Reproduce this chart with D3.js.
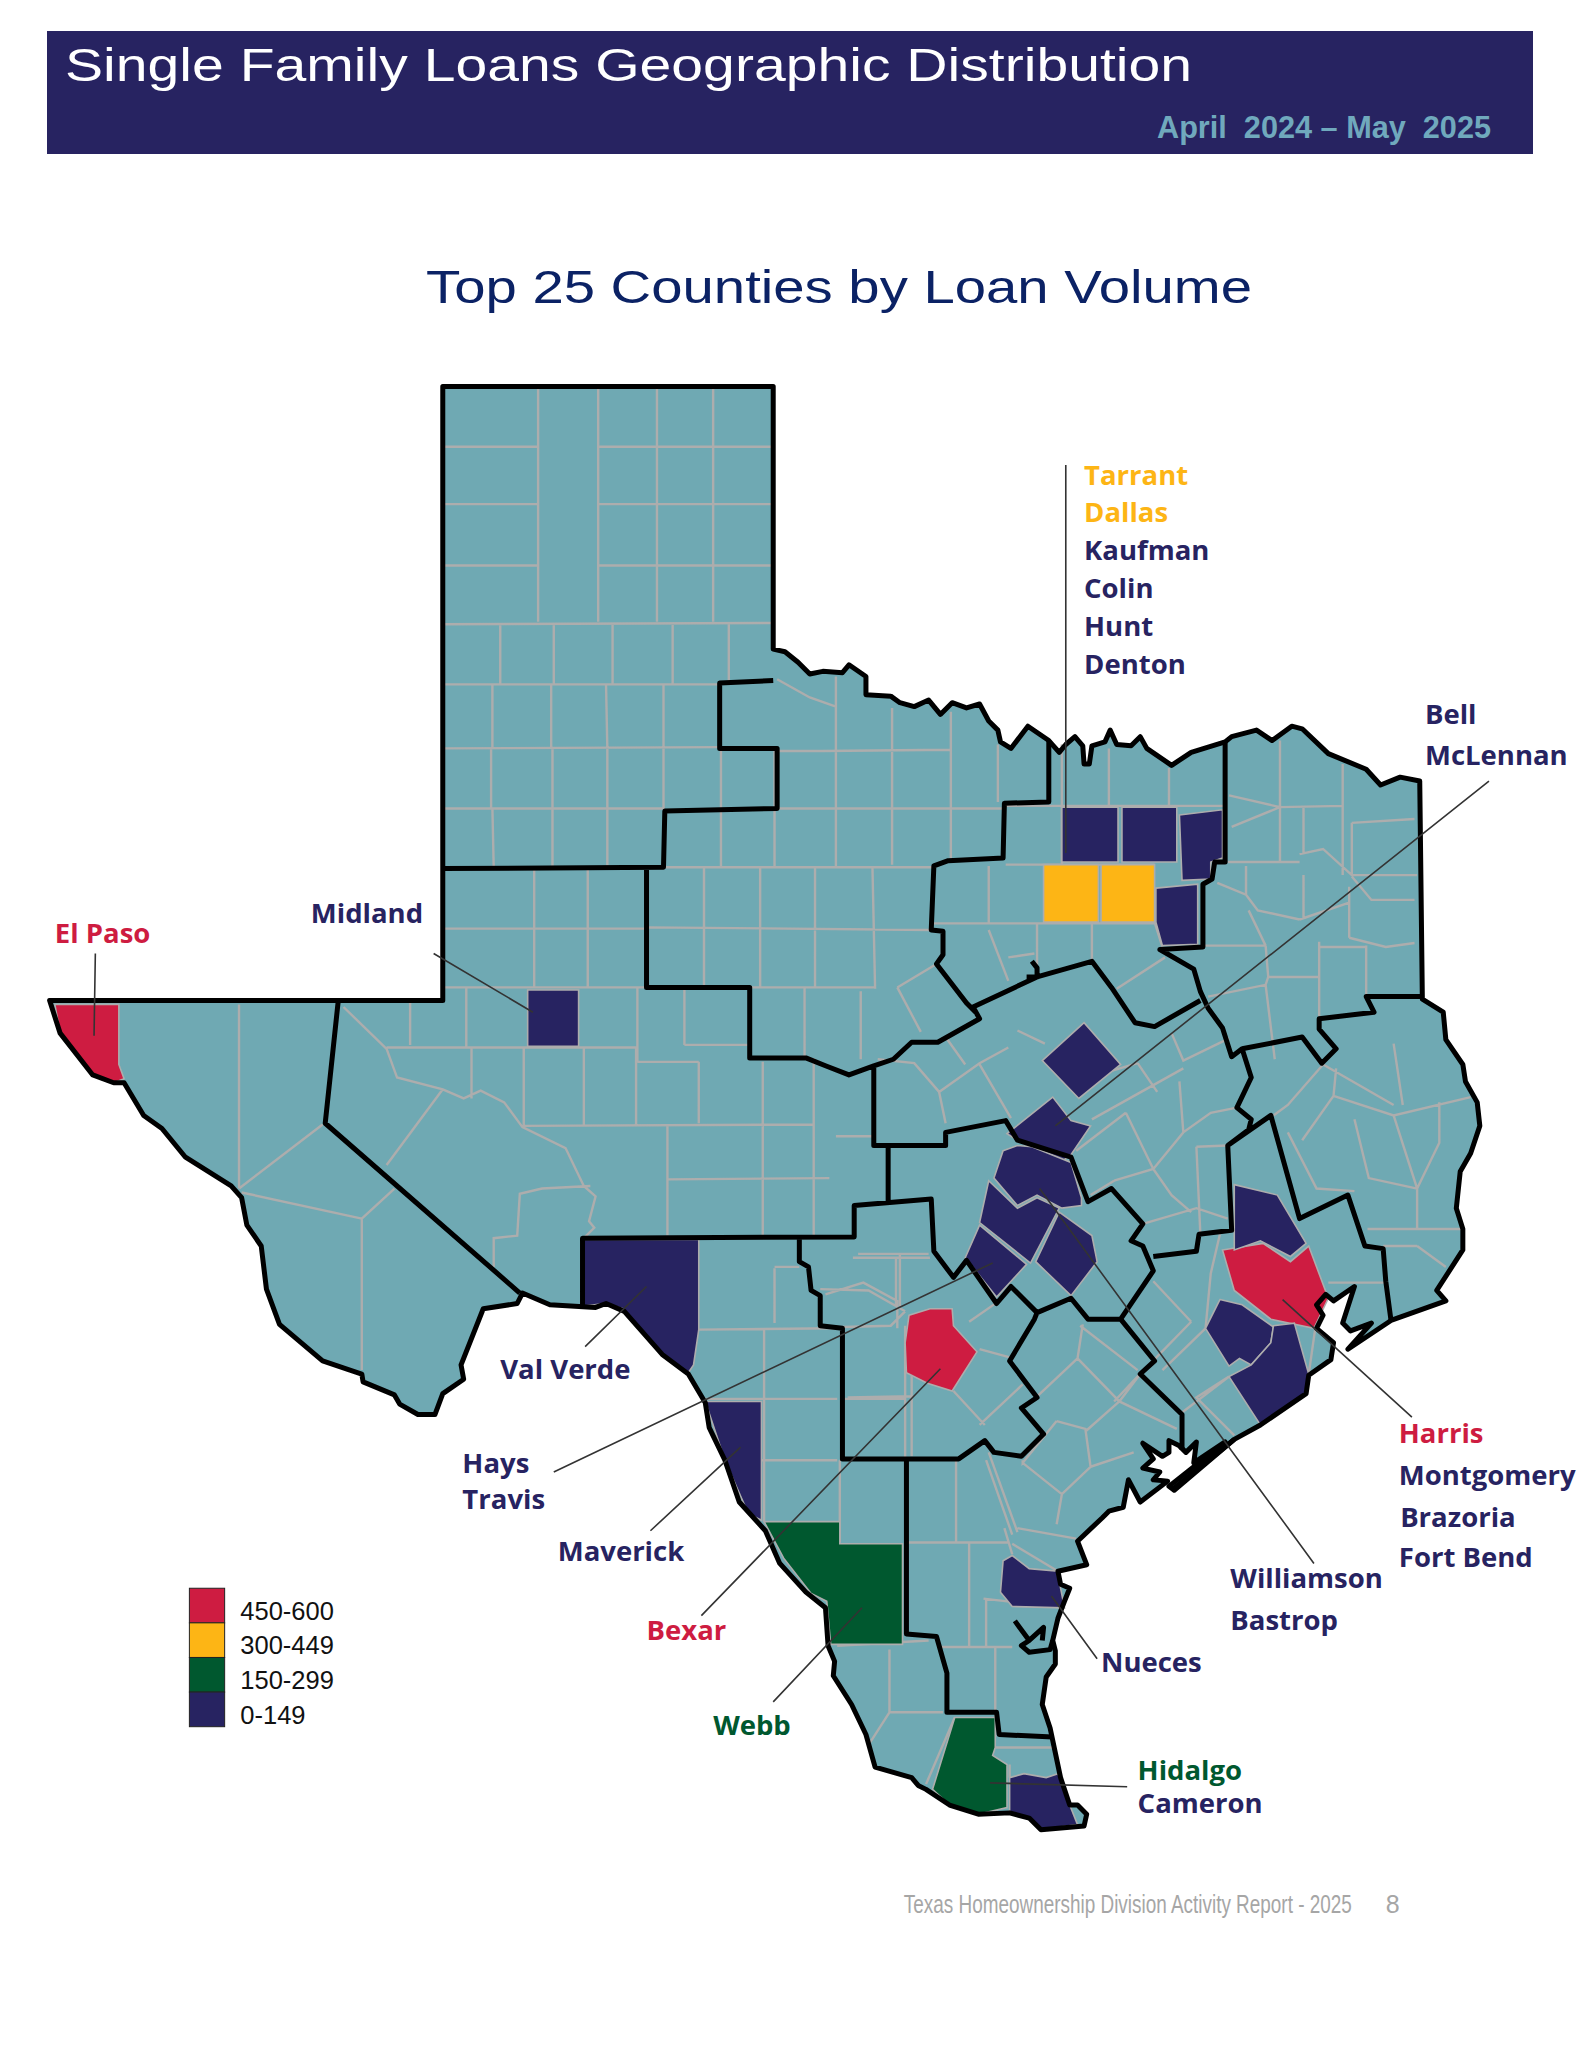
<!DOCTYPE html>
<html>
<head>
<meta charset="utf-8">
<title>Single Family Loans Geographic Distribution</title>
<script src="https://cdn.jsdelivr.net/npm/d3@7"></script>
<style>
    html, body { margin: 0; background: #fff; }
    svg { display: block; }
</style>
</head>
<body>
<svg id="chart" width="1583" height="2048"></svg>
<script>
// legend
var tierNames = ['450-600', '300-449', '150-299', '0-149'];
var tierColors = ['#ce1c41', '#fdb515', '#00582f', '#272361'];

// county -> legend tier
var countyTiers = {
    'El Paso': '450-600', 'Bexar': '450-600', 'Harris': '450-600',
    'Tarrant': '300-449', 'Dallas': '300-449',
    'Webb': '150-299', 'Hidalgo': '150-299',
    'Kaufman': '0-149', 'Colin': '0-149', 'Hunt': '0-149', 'Denton': '0-149',
    'Bell': '0-149', 'McLennan': '0-149', 'Midland': '0-149', 'Val Verde': '0-149',
    'Hays': '0-149', 'Travis': '0-149', 'Maverick': '0-149', 'Williamson': '0-149',
    'Bastrop': '0-149', 'Nueces': '0-149', 'Cameron': '0-149', 'Montgomery': '0-149',
    'Brazoria': '0-149', 'Fort Bend': '0-149'
};

// map geometry, in map units
var stateOutline = [[339,296],[592,296],[592,497],[601,499],[611,507],[620,516],[630,514],[645,515],[650,509],[663,518],[663,532],[682,533],[689,538],[700,541],[711,536],[720,547],[729,538],[740,542],[750,539],[757,552],[764,559],[766,568],[774,573],[787,556],[803,567],[811,576],[816,570],[823,564],[829,571],[830,585],[834,585],[836,571],[846,568],[850,559],[855,570],[866,571],[873,564],[878,573],[897,586],[912,576],[938,568],[943,564],[962,559],[974,567],[989,556],[997,558],[1017,577],[1046,589],[1057,601],[1072,595],[1087,598],[1089,765],[1105,775],[1107,796],[1120,815],[1122,828],[1131,844],[1133,862],[1126,883],[1118,897],[1115,925],[1120,941],[1120,957],[1100,988],[1107,996],[1065,1011],[1032,1033],[1050,1013],[1034,1019],[1028,1013],[1037,985],[1021,996],[1015,991],[1008,999],[1013,1007],[1008,1017],[1021,1028],[1019,1041],[1002,1053],[1000,1067],[965,1091],[945,1102],[899,1141],[895,1138],[938,1104],[914,1120],[916,1104],[908,1112],[903,1107],[895,1103],[895,1112],[890,1115],[875,1105],[883,1117],[875,1124],[888,1127],[883,1133],[894,1134],[873,1150],[864,1133],[860,1154],[849,1157],[844,1162],[825,1180],[832,1198],[810,1203],[812,1213],[819,1216],[815,1226],[810,1239],[806,1256],[808,1264],[808,1274],[801,1284],[798,1305],[804,1323],[812,1361],[819,1382],[825,1382],[832,1389],[830,1398],[797,1401],[788,1392],[773,1388],[749,1389],[727,1382],[709,1370],[703,1367],[698,1361],[670,1353],[663,1328],[652,1305],[638,1283],[639,1272],[634,1260],[632,1231],[617,1219],[597,1197],[586,1172],[566,1150],[555,1118],[543,1093],[540,1074],[527,1052],[507,1037],[478,1004],[464,998],[456,1001],[421,999],[400,990],[396,998],[370,1002],[353,1045],[355,1056],[339,1067],[333,1083],[320,1083],[306,1075],[302,1068],[278,1058],[277,1052],[247,1042],[214,1014],[204,987],[200,954],[189,938],[185,917],[177,908],[142,886],[124,864],[110,854],[95,829],[87,829],[71,823],[46,791],[38,766],[339,766]];

var countyShapes = {
    'El Paso': [[42,769],[91,769],[91,815],[95,826],[87,829],[71,823],[46,791]],
    'Midland': [[404,758],[443,758],[443,801],[404,801]],
    'Val Verde': [[447,949],[535,949],[535,1018],[531,1045],[527,1051],[507,1037],[477,1002],[463,998],[447,1000]],
    'Maverick': [[540,1073],[583,1073],[583,1164],[573,1159],[555,1118]],
    'Webb': [[585,1165],[643,1165],[643,1182],[691,1182],[691,1259],[636,1259],[633,1226],[621,1220],[600,1193]],
    'Bexar': [[696,1007],[712,1002],[729,1002],[730,1015],[748,1035],[729,1065],[710,1059],[694,1051],[693,1028]],
    'Hidalgo': [[731,1315],[762,1315],[762,1338],[760,1344],[771,1351],[771,1384],[749,1389],[727,1382],[714,1370]],
    'Cameron': [[773,1361],[784,1358],[801,1361],[810,1358],[819,1382],[825,1397],[797,1401],[788,1392],[773,1388]],
    'Nueces': [[768,1195],[775,1191],[788,1201],[810,1203],[812,1216],[815,1231],[775,1230],[766,1219]],
    'Tarrant': [[799,662],[841,662],[841,706],[799,706]],
    'Dallas': [[843,662],[884,662],[884,706],[843,706]],
    'Denton': [[813,618],[856,618],[856,660],[813,660]],
    'Colin': [[859,618],[901,618],[901,660],[859,660]],
    'Hunt': [[903,624],[936,620],[936,657],[927,660],[927,673],[905,674]],
    'Kaufman': [[885,680],[917,677],[917,723],[890,724],[885,706]],
    'Bell': [[798,812],[830,783],[858,815],[826,841]],
    'McLennan': [[771,868],[806,840],[820,858],[835,862],[820,884],[812,890],[779,873]],
    'Williamson': [[768,881],[779,877],[790,878],[820,890],[828,917],[828,923],[813,925],[794,915],[779,923],[761,902]],
    'Travis': [[757,904],[779,925],[794,917],[811,925],[789,967],[750,936]],
    'Hays': [[750,938],[786,968],[763,993],[739,963]],
    'Bastrop': [[811,928],[836,946],[840,966],[820,992],[793,966]],
    'Harris': [[936,957],[967,952],[988,966],[1002,954],[1017,994],[1006,1017],[973,1010],[945,988]],
    'Montgomery': [[945,907],[978,915],[1000,952],[988,962],[965,950],[945,957]],
    'Fort Bend': [[934,995],[951,999],[975,1016],[973,1028],[958,1045],[949,1040],[941,1046],[923,1017]],
    'Brazoria': [[975,1015],[991,1013],[1002,1052],[999,1067],[965,1091],[941,1054],[958,1045],[973,1028]]
};

// thick black region borders
var regionLines = [
    [[592,521],[551,523],[551,573],[595,573],[595,619],[509,621],[508,664],[339,665]],
    [[495,665],[495,756],[574,756],[574,810],[617,810],[632,816],[650,823],[669,816],[684,811],[698,798],[718,798],[750,780],[745,771],[794,748],[836,736],[851,756],[869,783],[884,786],[919,766]],
    [[803,567],[803,614],[769,615],[768,657],[726,659],[715,663],[713,712],[722,713],[722,731],[717,738],[740,768],[748,776]],
    [[669,816],[669,877],[724,877],[724,867],[770,858],[779,873],[820,886],[833,920],[851,910],[875,937],[866,950],[875,954],[883,973],[858,1010],[833,1010],[820,994],[794,1005],[774,985],[763,998],[740,965],[730,978],[715,958],[713,918],[654,923],[654,947],[446,948],[446,1000]],
    [[680,877],[680,920]],
    [[612,948],[612,966],[619,970],[621,988],[628,992],[628,1015],[645,1017],[645,1117],[734,1117],[754,1103],[761,1112],[782,1115],[799,1098],[782,1078],[794,1070],[773,1042],[792,1010],[794,1005]],
    [[694,1118],[694,1251],[717,1253],[725,1281],[725,1311],[763,1311],[765,1328],[806,1330]],
    [[259,766],[249,860],[398,990]],
    [[858,1010],[884,1042],[873,1052],[905,1083],[905,1110]],
    [[883,962],[916,958],[918,945],[943,942],[940,877],[973,854],[995,933],[1032,915],[1045,954],[1059,956],[1061,981],[1065,1011]],
    [[938,568],[938,660],[930,660],[928,673],[921,677],[921,725],[888,727],[914,742],[919,759],[925,772],[936,787],[943,809],[951,803],[958,825],[947,848],[958,857],[956,865],[940,877]],
    [[1089,763],[1046,763],[1052,775],[1010,780],[1010,788],[1023,803],[1012,814],[997,794],[951,803]],
    [[777,1241],[788,1256],[799,1246],[798,1256]],
    [[788,1256],[782,1260],[788,1265],[804,1263],[806,1256]],
    [[945,1102],[897,1141]],
    [[786,748],[794,748],[794,741],[790,736]]
];

// grey county borders
var countyLines = [
    // panhandle
    [[412,296],[412,476]], [[458,296],[458,476]], [[503,296],[503,476]], [[546,296],[546,476]],
    [[339,342],[412,342]], [[458,342],[592,342]], [[339,386],[412,386]], [[458,386],[592,386]], [[339,433],[412,433]], [[458,433],[592,433]],
    [[339,478],[592,477]], [[383,478],[383,524]], [[424,478],[424,524]], [[469,478],[469,524]], [[515,478],[515,524]], [[558,478],[558,522]],
    [[339,524],[551,524]], [[377,524],[377,573]], [[422,524],[422,573]], [[464,524],[465,573]], [[508,524],[508,573]],
    [[339,573],[551,572]], [[376,573],[376,619]], [[423,573],[423,619]], [[465,573],[465,619]], [[508,573],[508,619]], [[552,573],[552,619]],
    [[339,619],[509,619]], [[377,619],[378,664]], [[423,619],[423,664]], [[465,619],[465,664]],
    // north central
    [[552,621],[552,664]], [[593,573],[593,664]], [[640,518],[640,664]], [[683,542],[683,662]], [[728,545],[728,657]], [[764,570],[764,614]],
    [[595,520],[620,534],[640,541]], [[594,575],[630,575],[728,574]], [[595,619],[768,619]], [[508,664],[715,664]],
    [[539,665],[539,756]], [[582,665],[582,756]], [[624,665],[624,756]], [[668,665],[670,757]], [[495,710],[713,712]],
    [[574,756],[670,756]], [[687,756],[717,738]], [[687,756],[705,790]], [[616,756],[616,810]], [[659,759],[659,811]],
    // dallas block
    [[769,617],[939,617]], [[770,662],[884,662]], [[849,573],[849,617]], [[895,588],[895,623]], [[813,570],[813,617]], [[813,617],[813,662]],
    [[757,663],[757,707]], [[713,707],[884,707]], [[757,712],[772,751]], [[772,733],[792,730]], [[794,707],[794,739]], [[836,707],[836,736]],
    [[884,706],[890,725]], [[855,757],[892,733]],
    // northeast
    [[980,567],[980,660]], [[1028,585],[1028,670]], [[941,609],[980,618],[943,633]], [[980,618],[1028,617]], [[998,618],[998,654]],
    [[1035,630],[1083,627]], [[1035,630],[1035,670]], [[940,660],[995,660]], [[995,654],[1013,650],[1035,670],[1085,670]],
    [[932,676],[954,685],[963,697],[995,704]], [[954,663],[954,685]], [[998,670],[998,704]], [[1035,671],[1050,689],[1083,689]],
    [[1033,679],[1033,718]], [[1033,718],[1061,725],[1083,722]], [[995,704],[1033,691]], [[956,697],[969,724]], [[921,724],[969,724]],
    [[969,724],[971,748]], [[1010,721],[1010,778]], [[1010,725],[1046,725]], [[1046,724],[1046,763]], [[971,748],[1010,748]],
    [[925,763],[969,754],[971,748]], [[969,754],[976,811]],
    // west
    [[409,665],[409,756]], [[450,665],[450,756]], [[339,711],[495,711]], [[339,756],[494,756]],
    [[314,766],[314,800]], [[357,756],[357,802]], [[488,756],[488,813]], [[524,756],[524,800]], [[296,802],[488,802]], [[524,800],[574,800]],
    [[361,802],[361,841]], [[401,802],[401,862]], [[447,802],[447,862]], [[487,802],[487,862]], [[535,813],[535,860]], [[488,813],[535,813]],
    [[400,862],[623,861]], [[263,771],[296,803],[304,825],[339,834],[355,841],[368,835],[386,844],[400,863],[433,879],[447,908],[456,916],[451,935],[455,940],[447,948]],
    [[339,834],[296,892]], [[302,910],[277,933]], [[247,861],[183,910]], [[185,913],[277,933]], [[183,769],[183,910]], [[277,933],[277,1049]],
    [[452,908],[415,910],[398,914],[396,946],[378,948],[378,970]], [[511,861],[511,946]], [[584,813],[584,946]], [[511,903],[635,902]], [[623,810],[623,946]], [[669,870],[640,870]],
    // south texas
    [[535,1018],[641,1017]], [[585,1017],[585,1165]], [[538,1071],[641,1071]], [[583,1118],[641,1118]], [[643,1118],[643,1181]],
    [[593,971],[593,1013]], [[593,970],[612,970]], [[653,963],[712,963]], [[686,963],[686,999]], [[628,987],[665,988],[693,1004]], [[645,1016],[682,1015],[693,1004]],
    [[693,1015],[693,1117]], [[645,1071],[693,1071]], [[694,1181],[772,1181]], [[742,1181],[742,1261]], [[732,1118],[732,1181]], [[755,1118],[775,1175]],
    [[641,1260],[711,1256]], [[681,1263],[681,1311]], [[681,1311],[722,1311]], [[681,1311],[665,1336]], [[731,1315],[709,1366]],
    [[720,1261],[775,1261]], [[762,1261],[762,1330]], [[753,1224],[814,1231]], [[755,1224],[755,1261]], [[775,1190],[769,1170]], [[775,1182],[810,1203]],
    [[762,1338],[806,1338]], [[773,1361],[773,1351]],
    // central
    [[672,811],[700,814],[719,836],[724,860]], [[719,836],[750,814],[772,802]], [[724,794],[739,815]], [[750,815],[774,856]], [[800,799],[779,789]],
    [[871,814],[886,836]], [[897,791],[906,812],[941,795]], [[836,857],[906,818]], [[820,829],[871,814]], [[862,852],[883,895]], [[824,881],[862,852]],
    [[853,904],[883,895],[906,867],[927,852],[947,848]], [[903,828],[906,867]], [[883,895],[897,915],[912,928]], [[875,937],[916,925],[940,933]],
    [[916,878],[940,877]], [[916,878],[919,944]], [[853,904],[835,915]], [[657,960],[711,960]], [[689,960],[689,1000]], [[632,991],[661,982],[687,996],[687,1017]],
    [[698,1049],[698,1115]], [[649,1070],[698,1069]], [[730,1065],[754,1091]], [[750,1091],[783,1060]], [[750,1033],[776,1040]], [[742,1012],[765,996]],
    [[829,1014],[825,1040],[790,1073]], [[825,1040],[857,1073],[901,1094]], [[827,1015],[871,1049]], [[857,1073],[831,1096]], [[857,1073],[873,1052]],
    [[809,1088],[831,1094],[835,1123],[813,1144]], [[783,1120],[813,1144],[809,1167]], [[757,1112],[779,1173]], [[835,1123],[868,1112]], [[783,1118],[783,1120],[809,1088]],
    [[779,1170],[824,1178]], [[883,981],[912,1012]], [[912,1012],[868,1057],[853,1073]], [[934,945],[927,975],[923,1017]], [[890,1049],[923,1017]],
    [[941,1054],[916,1070],[945,1099]], [[903,1083],[941,1054]],
    // east
    [[1013,815],[986,846],[975,854]], [[1021,839],[1067,854],[1126,840]], [[1023,818],[1021,839]], [[1013,815],[1067,846]], [[1067,799],[1074,846]],
    [[1037,857],[1048,902],[1085,910]], [[1067,854],[1085,910],[1085,941]], [[1102,844],[1102,875],[1085,910]], [[986,867],[1008,910],[1037,912]], [[1021,839],[997,873]],
    [[1047,941],[1120,941]], [[1085,954],[1107,970]], [[1059,954],[1085,954]], [[1017,982],[1061,982]], [[1007,1017],[1002,1052]]
];

// label -> where the text sits
var labelNames = Object.keys(countyTiers);
var labelSpots = {
    'Tarrant': [830,371], 'Dallas': [830,400], 'Kaufman': [830,429], 'Colin': [830,458], 'Hunt': [830,487], 'Denton': [830,516],
    'Bell': [1091,554], 'McLennan': [1091,586], 'El Paso': [42,722], 'Midland': [238,707], 'Val Verde': [383,1056],
    'Hays': [354,1128], 'Travis': [354,1155], 'Maverick': [427,1195], 'Bexar': [495,1256], 'Webb': [546,1328],
    'Williamson': [942,1216], 'Bastrop': [942,1248], 'Nueces': [843,1280], 'Hidalgo': [871,1363], 'Cameron': [871,1388],
    'Harris': [1071,1105], 'Montgomery': [1071,1137], 'Brazoria': [1072,1169], 'Fort Bend': [1071,1200]
};

var leaderLines = [
    [[816,356],[816,653]], [[73,730],[72,793]], [[332,730],[408,775]], [[448,1031],[495,985]], [[424,1127],[760,967]],
    [[498,1172],[567,1108]], [[537,1237],[720,1048]], [[592,1303],[660,1231]], [[1006,1197],[796,910]], [[1081,1085],[982,995]],
    [[1140,598],[808,862]], [[840,1270],[805,1222]], [[863,1368],[758,1365]]
];

var k = 1583 / 1212;  // map units to page
var x = d3.scaleLinear().domain([0, 1212]).range([0, 1583]);
var y = d3.scaleLinear().domain([0, 1568]).range([0, 2048]);
var tierColor = d3.scaleOrdinal().domain(tierNames).range(tierColors);
var geoPath = d3.geoPath(d3.geoIdentity().scale(k));

function lines(coords) {
    return { type: 'MultiLineString', coordinates: coords };
}
function poly(coords) {
    return { type: 'Polygon', coordinates: [coords.concat([coords[0]])] };
}

var svg = d3.select('#chart');

//header
svg.append('rect').attr('x', 47).attr('y', 31).attr('width', 1486).attr('height', 123).attr('fill', '#272361');
svg.append('text').attr('x', 65).attr('y', 81).text('Single Family Loans Geographic Distribution')
    .attr('font-family', 'Liberation Sans').attr('font-size', 47).attr('fill', '#fff')
    .attr('textLength', 1127).attr('lengthAdjust', 'spacingAndGlyphs');
svg.append('text').attr('x', 1157).attr('y', 138).text('April  2024 – May  2025')
    .style('white-space', 'pre')
    .attr('font-family', 'Liberation Sans').attr('font-weight', 'bold').attr('font-size', 31).attr('fill', '#70a9bd')
    .attr('textLength', 334).attr('lengthAdjust', 'spacingAndGlyphs');
svg.append('text').attr('x', 426).attr('y', 303).text('Top 25 Counties by Loan Volume')
    .attr('font-family', 'Liberation Sans').attr('font-size', 47).attr('fill', '#0b2265')
    .attr('textLength', 826).attr('lengthAdjust', 'spacingAndGlyphs');

//map
var map = svg.append('g');
map.append('path').attr('d', geoPath(poly(stateOutline))).attr('fill', '#6fa9b3');
map.append('path').attr('d', geoPath(lines(countyLines)))
    .attr('fill', 'none').attr('stroke', '#adadad').attr('stroke-width', 2.4);
map.selectAll('.county').data(Object.keys(countyShapes)).enter().append('path')
    .attr('class', 'county')
    .attr('d', d => geoPath(poly(countyShapes[d])))
    .attr('fill', d => tierColor(countyTiers[d]))
    .attr('stroke', '#adadad').attr('stroke-width', 1.6);
map.append('path').attr('d', geoPath(lines(regionLines)))
    .attr('fill', 'none').attr('stroke', '#000').attr('stroke-width', 5).attr('stroke-linejoin', 'round');
map.append('path').attr('d', geoPath(poly(stateOutline)))
    .attr('fill', 'none').attr('stroke', '#000').attr('stroke-width', 5).attr('stroke-linejoin', 'round');
map.append('path').attr('d', geoPath(lines(leaderLines)))
    .attr('fill', 'none').attr('stroke', '#333').attr('stroke-width', 1.6);

//labels
svg.selectAll('.label').data(labelNames).enter().append('text')
    .attr('class', 'label')
    .attr('x', d => x(labelSpots[d][0]))
    .attr('y', d => y(labelSpots[d][1]))
    .attr('fill', d => tierColor(countyTiers[d]))
    .attr('font-family', 'Open Sans').attr('font-weight', 'bold').attr('font-size', 27.5)
    .text(d => d);

//legend
var legendY = d3.scaleBand().domain(tierNames).range([y(1216), y(1322)]);
svg.selectAll('.swatch').data(tierNames).enter().append('rect')
    .attr('class', 'swatch')
    .attr('x', x(145)).attr('y', d => legendY(d))
    .attr('width', x(172) - x(145)).attr('height', legendY.bandwidth())
    .attr('fill', d => tierColor(d)).attr('stroke', '#222').attr('stroke-width', 1);
svg.selectAll('.tier').data(tierNames).enter().append('text')
    .attr('class', 'tier')
    .attr('x', x(184)).attr('y', d => legendY(d) + legendY.bandwidth() - 3)
    .attr('font-family', 'Liberation Sans').attr('font-size', 25.5).attr('fill', '#111')
    .text(d => d);

//footer
svg.append('text').attr('x', x(692)).attr('y', y(1465)).text('Texas Homeownership Division Activity Report - 2025')
    .attr('font-family', 'Liberation Sans').attr('font-size', 25).attr('fill', '#a6a6a6')
    .attr('textLength', x(1035) - x(692)).attr('lengthAdjust', 'spacingAndGlyphs');
svg.append('text').attr('x', x(1061)).attr('y', y(1465)).text('8')
    .attr('font-family', 'Liberation Sans').attr('font-size', 25).attr('fill', '#a6a6a6');
</script>
</body>
</html>
